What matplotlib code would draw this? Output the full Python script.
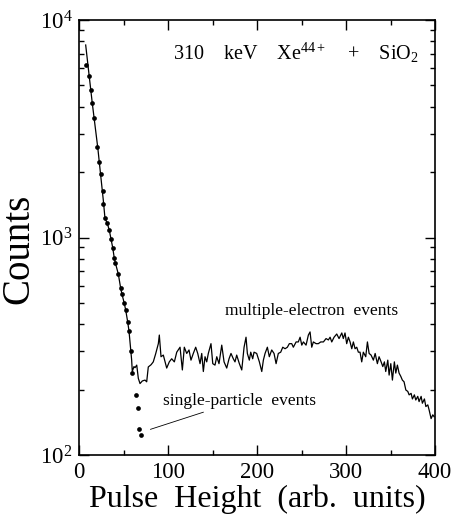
import matplotlib
matplotlib.use("Agg")
import matplotlib.pyplot as plt
from matplotlib.ticker import LogLocator, MultipleLocator, NullFormatter

plt.rcParams['font.family'] = ['Liberation Serif', 'DejaVu Serif']
plt.rcParams['mathtext.fontset'] = 'custom'
plt.rcParams['mathtext.rm'] = 'Liberation Serif'
plt.rcParams['mathtext.it'] = 'Liberation Serif:italic'

# single-particle events (dots)
dot_x = [7.2, 10.9, 13.2, 14.6, 16.9, 19.6, 22.2, 24.1, 26.3, 27.0, 28.9, 31.5,
         33.7, 35.7, 37.6, 39.4, 40.5, 43.9, 46.6, 48.0, 50.6, 52.2, 54.4, 55.9,
         57.8, 59.6, 64.1, 65.7, 67.5, 69.7]
dot_y = [6210, 5530, 4770, 4170, 3540, 2610, 2220, 1960, 1640, 1426, 1225, 1162,
         1082, 981, 898, 802, 766, 679, 583, 549, 498, 464, 410, 372,
         302, 239, 189, 164, 131, 124]

# multiple-electron events (line)
line_x = [7.2, 14.6, 20.9, 27.0, 28.9, 31.5, 33.7, 35.7, 37.6, 39.4, 40.5, 43.9,
          46.6, 48.0, 50.6, 52.2, 54.4, 55.9, 57.8, 58.9, 59.6, 61.5, 62.7, 64.6,
          66.4, 68.3, 70.9, 73.9, 75.8, 77.6, 80.7, 83.2, 85.9, 88.9, 90.0, 91.9,
          94.5, 98.3, 101.2, 103.9, 106.9, 109.6, 113.3, 115.9, 118.1, 120.8, 123.4,
          125.6, 128.2, 130.9, 133.2, 135.8, 137.7, 139.5, 141.4, 143.3, 145.1,
          148.1, 150.1, 152.6, 154.6, 157.1, 160.2, 162.8, 165.8, 168.4, 170.6,
          173.2, 175.1, 177.0, 180.0, 182.7, 185.3, 187.5, 189.0, 191.2, 192.8,
          195.0, 196.5, 199.5, 202.5, 205.2, 207.0, 208.9, 211.5, 213.7, 216.4,
          219.0, 221.3, 223.8, 226.5, 228.8, 231.4, 234.0, 236.2, 238.9, 240.7,
          243.8, 246.3, 248.3, 250.2, 252.0, 255.0, 257.6, 259.5, 261.4, 263.2,
          266.3, 268.8, 271.5, 274.5, 277.5, 280.1, 282.0, 283.9, 286.5, 289.5,
          292.1, 295.2, 296.9, 298.8, 300.7, 302.6, 304.5, 306.4, 308.2, 310.1,
          312.0, 313.8, 315.7, 317.6, 319.4, 322.1, 324.0, 325.9, 328.1, 330.7,
          332.7, 335.2, 337.1, 339.4, 341.3, 343.1, 344.6, 346.9, 348.4, 350.3,
          352.1, 354.3, 355.9, 357.7, 359.6, 361.5, 363.3, 365.2, 367.2, 369.4,
          370.9, 373.1, 374.6, 376.8, 378.4, 380.6, 382.1, 384.4, 385.8, 388.1,
          389.7, 391.9, 393.4, 395.6, 397.5, 399.0]
line_y = [7675, 4150, 2565, 1486, 1225, 1162, 1082, 981, 898, 802, 766, 679,
          583, 549, 498, 464, 410, 372, 304, 273, 242, 255, 252, 259,
          225, 213, 219, 221, 217, 254, 260, 268, 292, 325, 356, 283,
          288, 251, 268, 277, 268, 297, 313, 246, 313, 293, 304,
          273, 293, 313, 293, 263, 293, 242, 283, 268, 293,
          325, 263, 259, 283, 263, 320, 268, 251, 277, 293,
          277, 268, 288, 263, 246, 313, 348, 293, 273, 297,
          277, 297, 293, 268, 242, 273, 293, 313, 283, 304,
          293, 263, 293, 297, 313, 308, 313, 325, 325, 313,
          331, 331, 348, 320, 331, 320, 356, 368, 313, 331,
          325, 325, 331, 331, 343, 338, 348, 331, 348, 360,
          343, 364, 343, 364, 325, 348, 331, 308, 331, 308,
          313, 297, 297, 268, 297, 283, 331, 293, 288, 273,
          293, 263, 283, 268, 255, 268, 242, 273, 233, 263,
          221, 268, 238, 259, 238, 230, 221, 217, 199, 196,
          189, 192, 181, 189, 179, 186, 176, 186, 173, 181,
          167, 170, 161, 147, 153, 150]

x_ticks = [0, 100, 200, 300, 400]

fig = plt.figure(figsize=(4.52, 5.24), dpi=100)
ax = fig.add_axes([0.1754, 0.1317, 0.787, 0.8301])

ax.plot(line_x, line_y, color='black', lw=0.9)
ax.plot(dot_x, dot_y, 'o', color='black', ms=3.4, mew=0)

ax.set_yscale('log')
ax.set_xlim(0, 400)
ax.set_ylim(100, 10000)
ax.set_xticks(x_ticks)
ax.set_xticklabels([str(v) for v in x_ticks])
ax.xaxis.set_minor_locator(MultipleLocator(50))
ax.yaxis.set_major_locator(LogLocator(base=10))
ax.yaxis.set_minor_locator(LogLocator(base=10, subs=range(2, 10)))
ax.yaxis.set_minor_formatter(NullFormatter())

ax.tick_params(which='both', direction='in', top=True, right=True, width=1)
ax.tick_params(which='major', length=7, labelsize=16.5, pad=5)
ax.tick_params(which='minor', length=3.5)
for s in ax.spines.values():
    s.set_linewidth(1.2)

ax.set_xlabel('Pulse  Height  (arb.  units)', fontsize=23, labelpad=1)
ax.set_ylabel('Counts', fontsize=28)
ax.yaxis.set_label_coords(-0.118, 0.475)

ax.text(0.955, 0.925, r'310    keV    Xe$^{44+}$    +    SiO$_2$', transform=ax.transAxes,
        ha='right', va='center', fontsize=14.5)
ax.text(0.41, 0.33, 'multiple-electron  events', transform=ax.transAxes,
        ha='left', va='center', fontsize=12.5)
ax.annotate('single-particle  events', xy=(77, 130), xytext=(94, 178),
            ha='left', va='center', fontsize=12.5,
            arrowprops=dict(arrowstyle='-', lw=0.6, color='black',
                            shrinkA=2, shrinkB=2))

fig.savefig('out.png', dpi=100)
